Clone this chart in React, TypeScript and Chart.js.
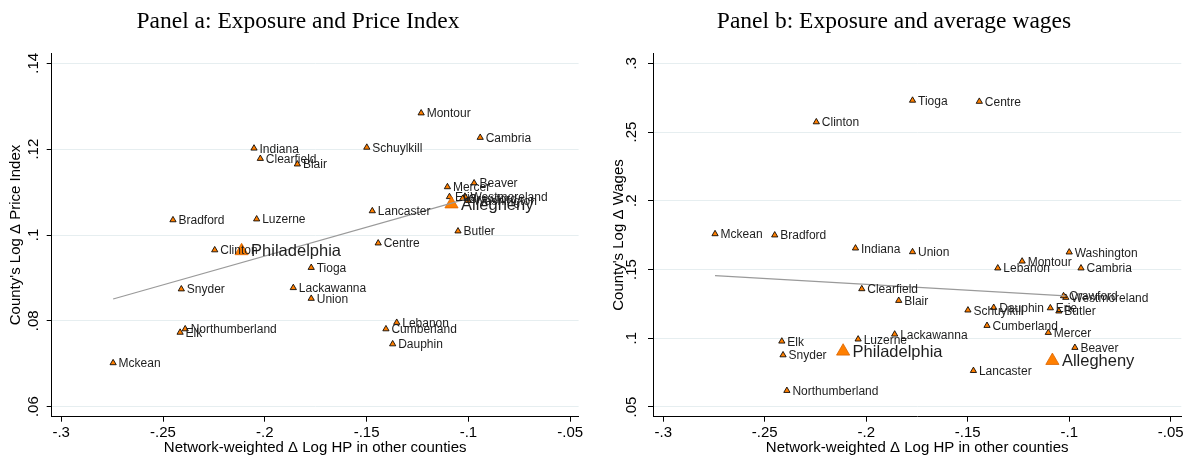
import React, { useEffect, useRef } from 'react';
import { Chart, registerables } from 'chart.js';

Chart.register(...registerables);

// ---------- data ----------
const counties = [
  'Montour', 'Cambria', 'Indiana', 'Schuylkill', 'Clearfield', 'Blair', 'Mercer', 'Beaver',
  'Erie', 'Westmoreland', 'Crawford', 'Washington', 'Allegheny', 'Lancaster', 'Bradford',
  'Luzerne', 'Butler', 'Centre', 'Clinton', 'Philadelphia', 'Tioga', 'Snyder', 'Lackawanna',
  'Union', 'Lebanon', 'Cumberland', 'Northumberland', 'Elk', 'Dauphin', 'Mckean',
];
const exposure = [
  -0.1232, -0.0942, -0.2053, -0.1499, -0.2022, -0.1840, -0.1103, -0.0972,
  -0.1093, -0.1017, -0.1028, -0.1000, -0.1083, -0.1472, -0.2451,
  -0.2040, -0.1051, -0.1443, -0.2246, -0.2114, -0.1772, -0.2410, -0.1860,
  -0.1772, -0.1352, -0.1405, -0.2391, -0.2416, -0.1372, -0.2745,
];
const priceIndex = [
  0.1284, 0.1227, 0.1202, 0.1204, 0.1178, 0.1165, 0.1112, 0.1121,
  0.1089, 0.1090, 0.1085, 0.1080, 0.1072, 0.1056, 0.1035,
  0.1037, 0.1009, 0.0981, 0.0965, 0.0963, 0.0924, 0.0874, 0.0877,
  0.0852, 0.0796, 0.0781, 0.0781, 0.0773, 0.0746, 0.0702,
];
const wages = [
  0.1560, 0.1510, 0.1655, 0.1204, 0.1359, 0.1274, 0.1041, 0.0932,
  0.1220, 0.1296, 0.1308, 0.1626, 0.0837, 0.0764, 0.1750,
  0.0993, 0.1197, 0.2722, 0.2573, 0.0905, 0.2730, 0.0878, 0.1029,
  0.1628, 0.1510, 0.1092, 0.0619, 0.0978, 0.1223, 0.1759,
];
const largeCounties = ['Philadelphia', 'Allegheny'];

const fitExposure = [-0.2745, -0.1017];
const fitPriceIndex = [0.0851, 0.1083];
const fitWages = [0.1456, 0.1308];

const xTickValues = [-0.3, -0.25, -0.2, -0.15, -0.1, -0.05];
const xTickLabels = ['-.3', '-.25', '-.2', '-.15', '-.1', '-.05'];
const priceTickValues = [0.06, 0.08, 0.1, 0.12, 0.14];
const priceTickLabels = ['.06', '.08', '.1', '.12', '.14'];
const wageTickValues = [0.05, 0.1, 0.15, 0.2, 0.25, 0.3];
const wageTickLabels = ['.05', '.1', '.15', '.2', '.25', '.3'];

// ---------- styling ----------
const SANS = '"Liberation Sans", Arial, sans-serif';
const ORANGE = '#FF7F00';
const GRID = '#E6EEF0';

const labelPlugin = {
  id: 'countyLabels',
  afterDatasetsDraw(chart: any) {
    const meta = chart.getDatasetMeta(1);
    const ctx = chart.ctx;
    ctx.save();
    ctx.textBaseline = 'middle';
    ctx.textAlign = 'left';
    ctx.fillStyle = '#1e1e1e';
    meta.data.forEach((el: any, i: number) => {
      const name = counties[i];
      const big = largeCounties.includes(name);
      ctx.font = (big ? '16.5px ' : '12px ') + SANS;
      ctx.fillText(name, el.x + (big ? 9.5 : 5.5), el.y + 1);
    });
    ctx.restore();
  },
};

type PanelCfg = {
  left: number;
  title: string;
  titleShift: number;
  yTitle: string;
  yValues: number[];
  fitY: number[];
  yTicks: number[];
  yLabels: string[];
  xMin: number;
  xMax: number;
  yMin: number;
  yMax: number;
  yAxisWidth: number;
  rightPad: number;
  yTickPad: number;
  yTitlePad: number;
};

function Panel({ cfg }: { cfg: PanelCfg }) {
  const ref = useRef<HTMLCanvasElement>(null);
  useEffect(() => {
    const points = exposure.map((x, i) => ({ x, y: cfg.yValues[i] }));
    const fit = fitExposure.map((x, i) => ({ x, y: cfg.fitY[i] }));
    const isBig = (c: any) => largeCounties.includes(counties[c.dataIndex]);
    const chart = new Chart(ref.current as HTMLCanvasElement, {
      type: 'scatter',
      data: {
        datasets: [
          {
            data: fit,
            showLine: true,
            borderColor: '#9a9a9a',
            borderWidth: 1.2,
            pointRadius: 0,
          } as any,
          {
            data: points,
            pointStyle: 'triangle',
            pointRadius: (c: any) => (isBig(c) ? 7.6 : 3.6),
            backgroundColor: ORANGE,
            borderColor: (c: any) => (isBig(c) ? '#D96500' : '#000'),
            borderWidth: (c: any) => (isBig(c) ? 0.8 : 0.85),
          } as any,
        ],
      },
      options: {
        responsive: false,
        animation: false,
        events: [],
        layout: { padding: { top: 53.3, left: 0, right: cfg.rightPad, bottom: 0 } },
        plugins: {
          legend: { display: false },
          tooltip: { enabled: false },
          title: { display: false },
        },
        scales: {
          x: {
            type: 'linear',
            min: cfg.xMin,
            max: cfg.xMax,
            afterBuildTicks: (s: any) => {
              s.ticks = xTickValues.map((v) => ({ value: v }));
            },
            afterFit: (s: any) => {
              s.height = 42.3;
              s.paddingLeft = 0;
              s.paddingRight = 0;
            },
            ticks: {
              callback: (v: any) => xTickLabels[xTickValues.indexOf(v)],
              font: { family: SANS, size: 15 },
              color: '#000',
              padding: 2,
              minRotation: 0,
              maxRotation: 0,
            },
            grid: { drawOnChartArea: false, drawTicks: true, tickLength: 5, tickColor: '#000', tickWidth: 1 },
            border: { display: true, color: '#000', width: 1 },
            title: {
              display: true,
              text: 'Network-weighted \u0394 Log HP in other counties',
              font: { family: SANS, size: 15 },
              color: '#000',
              padding: { top: 0, bottom: 1.7 },
            },
          },
          y: {
            type: 'linear',
            min: cfg.yMin,
            max: cfg.yMax,
            afterBuildTicks: (s: any) => {
              s.ticks = cfg.yTicks.map((v) => ({ value: v }));
            },
            afterFit: (s: any) => {
              s.width = cfg.yAxisWidth;
              s.paddingTop = 0;
              s.paddingBottom = 0;
            },
            ticks: {
              callback: (v: any) => cfg.yLabels[cfg.yTicks.indexOf(v)],
              font: { family: SANS, size: 15 },
              color: '#000',
              padding: cfg.yTickPad,
              minRotation: 90,
              maxRotation: 90,
              crossAlign: 'center',
            },
            grid: { color: GRID, lineWidth: 1, drawTicks: true, tickLength: 5, tickColor: '#000', tickWidth: 1 },
            border: { display: true, color: '#000', width: 1 },
            title: {
              display: true,
              text: cfg.yTitle,
              font: { family: SANS, size: 15 },
              color: '#000',
              padding: { top: cfg.yTitlePad, bottom: 0 },
            },
          },
        },
      } as any,
      plugins: [labelPlugin],
    });
    return () => chart.destroy();
  }, []);
  return (
    <div style={{ position: 'absolute', left: cfg.left, top: 0, width: 596, height: 459 }}>
      <canvas ref={ref} width={596} height={459} style={{ display: 'block', width: 596, height: 459 }} />
      <div
        style={{
          position: 'absolute',
          left: cfg.titleShift,
          top: 6.4,
          width: 596,
          textAlign: 'center',
          fontFamily: '"Liberation Serif", serif',
          fontSize: 23.5,
          lineHeight: '28px',
          color: '#000',
          whiteSpace: 'nowrap',
        }}
      >
        {cfg.title}
      </div>
    </div>
  );
}

const panelA: PanelCfg = {
  left: 0,
  title: 'Panel a: Exposure and Price Index',
  titleShift: 0,
  yTitle: "County's Log \u0394 Price Index",
  yValues: priceIndex,
  fitY: fitPriceIndex,
  yTicks: priceTickValues,
  yLabels: priceTickLabels,
  xMin: -0.30467,
  xMax: -0.04587,
  yMin: 0.05767,
  yMax: 0.14233,
  yAxisWidth: 51.7,
  rightPad: 17.4,
  yTickPad: 2.8,
  yTitlePad: 7.3,
};

const panelB: PanelCfg = {
  left: 596,
  title: 'Panel b: Exposure and average wages',
  titleShift: 0,
  yTitle: "County's Log \u0394 Wages",
  yValues: wages,
  fitY: fitWages,
  yTicks: wageTickValues,
  yLabels: wageTickLabels,
  xMin: -0.30507,
  xMax: -0.04478,
  yMin: 0.04294,
  yMax: 0.30727,
  yAxisWidth: 57,
  rightPad: 10.7,
  yTickPad: 5.6,
  yTitlePad: 13.8,
};

export default function App() {
  return (
    <div style={{ position: 'absolute', left: 0, top: 0, width: 1192, height: 459, background: '#fff' }}>
      <Panel cfg={panelA} />
      <Panel cfg={panelB} />
    </div>
  );
}
